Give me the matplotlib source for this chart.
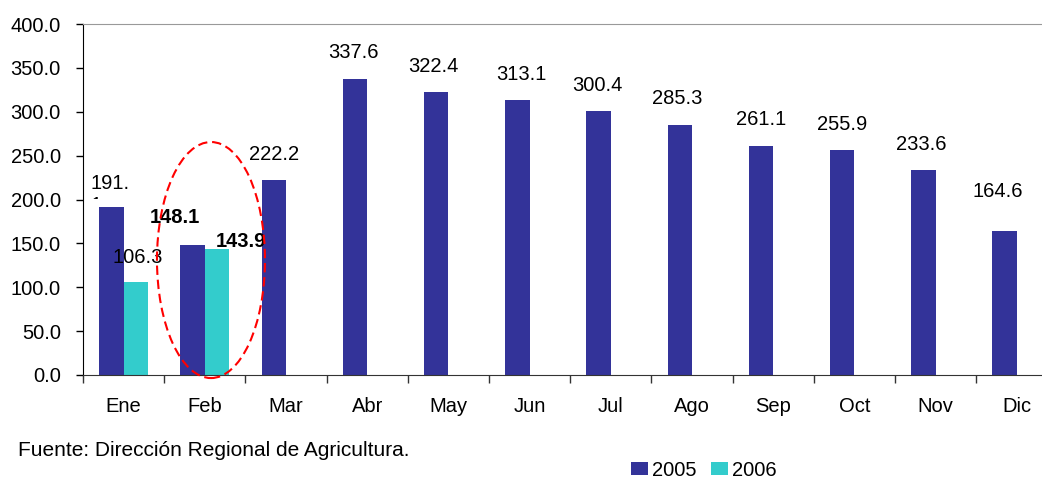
import matplotlib
matplotlib.use('Agg')
import matplotlib.pyplot as plt
import numpy as np
from matplotlib.patches import Ellipse, Patch
from matplotlib.transforms import Bbox, TransformedBbox

plt.rcParams['font.family'] = ['Liberation Sans', 'DejaVu Sans']

# datos
meses = ['Ene', 'Feb', 'Mar', 'Abr', 'May', 'Jun', 'Jul', 'Ago', 'Sep', 'Oct', 'Nov', 'Dic']
v2005 = [191.1, 148.1, 222.2, 337.6, 322.4, 313.1, 300.4, 285.3, 261.1, 255.9, 233.6, 164.6]
v2006 = [106.3, 143.9]
series = ['2005', '2006']
fuente = 'Fuente: Dirección Regional de Agricultura.'

C2005 = '#333399'
C2006 = '#33CCCC'
FS = 14.5

fig = plt.figure(figsize=(10.42, 4.78), dpi=100)
# the plot area runs past the right edge of the picture, as in the original
ax = fig.add_axes([83/1042, 1 - 375/478, 974.4/1042, 351/478])

x = np.arange(len(meses))
w = 0.3
b1 = ax.bar(x - w/2, v2005, width=w, color=C2005, zorder=2)
b2 = ax.bar(x[:len(v2006)] + w/2, v2006, width=w, color=C2006, zorder=2)

ax.set_xlim(-0.5, len(meses) - 0.5)
ax.set_ylim(0, 400)
ax.set_yticks(np.arange(0, 401, 50))
ax.set_yticklabels(['%.1f' % t for t in np.arange(0, 401, 50)], fontsize=FS)
ax.set_xticks(x)
ax.set_xticklabels(meses, fontsize=FS)
ax.set_xticks(np.arange(-0.5, len(meses)), minor=True)
ax.tick_params(axis='x', which='major', length=0, pad=16)
ax.tick_params(axis='x', which='minor', length=6, width=1, color='#333333')
ax.tick_params(axis='y', length=5, width=1, pad=11)

ax.spines['right'].set_visible(False)
ax.spines['top'].set_color('#999999')
ax.spines['left'].set_color('black')
ax.spines['bottom'].set_color('#333333')

# etiquetas de datos: desplazamientos en pixeles (dx, dy sobre la barra)
nudge2005 = {1: (-18, 28), 3: (-2, 26), 4: (-3, 26), 5: (4, 26), 6: (-1, 26),
             7: (-3, 26), 10: (-2, 26), 11: (-7, 39)}
nudge2006 = {0: (2, 24), 1: (24, 7)}
bold2005 = {1}
bold2006 = {1}

for i, bar in enumerate(b1):
    if i == 0:
        continue
    dx, dy = nudge2005.get(i, (0, 26))
    ax.annotate('%.1f' % v2005[i], (bar.get_x() + bar.get_width()/2, bar.get_height()),
                xytext=(dx, dy), textcoords='offset pixels', ha='center', va='center',
                fontsize=FS, fontweight='bold' if i in bold2005 else 'normal', zorder=3)

for i, bar in enumerate(b2):
    dx, dy = nudge2006.get(i, (0, 26))
    ax.annotate('%.1f' % v2006[i], (bar.get_x() + bar.get_width()/2, bar.get_height()),
                xytext=(dx, dy), textcoords='offset pixels', ha='center', va='center',
                fontsize=FS, fontweight='bold' if i in bold2006 else 'normal', zorder=3)

# first label is wrapped in two lines and its second line is cut off
bar0 = b1[0]
s0 = '%.1f' % v2005[0]
t0 = ax.annotate(s0[:-1] + '\n' + s0[-1], (bar0.get_x() + bar0.get_width()/2, bar0.get_height()),
                 xytext=(-1, 33), textcoords='offset pixels', ha='center', va='top',
                 multialignment='left', fontsize=FS, zorder=3)
clip = TransformedBbox(Bbox([[-0.5, v2005[0] + 9], [1.0, 400]]), ax.transData)
t0.set_clip_box(clip)
t0.set_clip_on(True)

# elipse roja alrededor de febrero
el = Ellipse((1 + 0.076, 131), width=1.33, height=269, fill=False,
             edgecolor='red', linestyle=(0, (4.5, 2.3)), linewidth=1.5, clip_on=False, zorder=4)
ax.add_patch(el)

fig.text(18/1042, 1 - 450/478, fuente, fontsize=15, ha='left', va='center')

handles = [Patch(facecolor=C2005), Patch(facecolor=C2006)]
fig.legend(handles, series, loc='center', bbox_to_anchor=(704/1042, 1 - 470/478),
           ncol=2, frameon=False, fontsize=FS, handlelength=0.82, handleheight=0.66,
           handletextpad=0.2, columnspacing=0.75, borderpad=0, borderaxespad=0)

fig.savefig('out.png', dpi=100)
